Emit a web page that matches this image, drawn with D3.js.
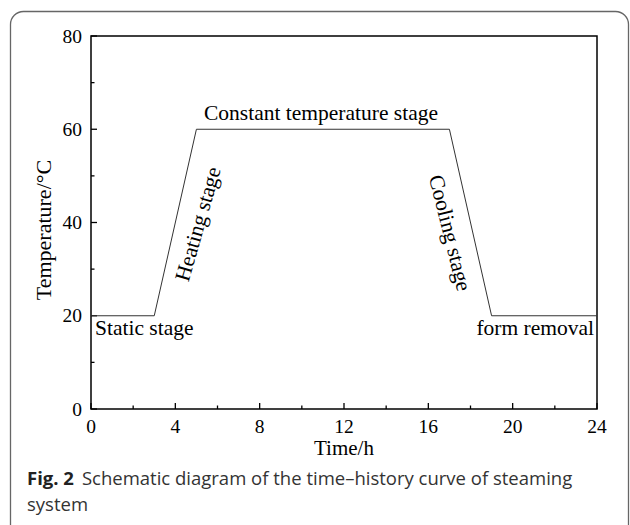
<!DOCTYPE html>
<html><head><meta charset="utf-8">
<script src="https://cdn.jsdelivr.net/npm/d3@7"></script>
<style>body{margin:0;background:#fff}svg{display:block}</style>
</head><body>
<svg id="c" width="630" height="525"></svg>
<script>
const timeH = [0, 3, 5, 17, 19, 24];
const tempC = [20, 20, 60, 60, 20, 20];
const xTicks = [0, 4, 8, 12, 16, 20, 24];
const yTicks = [0, 20, 40, 60, 80];
const xMinor = [2, 6, 10, 14, 18, 22];
const yMinor = [10, 30, 50, 70];
const stageLabels = ["Static stage", "Heating stage", "Constant temperature stage", "Cooling stage", "form removal"];

const svg = d3.select("#c");
const serif = "'Liberation Serif','Times New Roman',serif";
const sans = "'Open Sans','Noto Sans',sans-serif";

svg.append("rect").attr("x", 10.5).attr("y", 11.5).attr("width", 618).attr("height", 530)
  .attr("rx", 13).attr("fill", "none").attr("stroke", "#666").attr("stroke-width", 1.3);

const L = 91, R = 597, T = 36, B = 409;
const x = d3.scaleLinear().domain([0, 24]).range([L, R]);
const y = d3.scaleLinear().domain([0, 80]).range([B, T]);

const g = svg.append("g");
g.append("rect").attr("x", L).attr("y", T).attr("width", R - L).attr("height", B - T)
  .attr("fill", "none").attr("stroke", "#000").attr("stroke-width", 1.5);

const tk = g.append("g").attr("stroke", "#000").attr("stroke-width", 1.3);
xTicks.forEach(v => tk.append("line").attr("x1", x(v)).attr("x2", x(v)).attr("y1", B).attr("y2", B - 6));
xMinor.forEach(v => tk.append("line").attr("x1", x(v)).attr("x2", x(v)).attr("y1", B).attr("y2", B - 3.5));
yTicks.forEach(v => tk.append("line").attr("x1", L).attr("x2", L + 6).attr("y1", y(v)).attr("y2", y(v)));
yMinor.forEach(v => tk.append("line").attr("x1", L).attr("x2", L + 3.5).attr("y1", y(v)).attr("y2", y(v)));

const fsT = 19.5, fsA = 21, fsS = 21.5;
g.selectAll(".xl").data(xTicks).enter().append("text")
  .attr("x", d => x(d)).attr("y", 433).attr("text-anchor", "middle")
  .attr("font-family", serif).attr("font-size", fsT).text(d => d);
g.selectAll(".yl").data(yTicks).enter().append("text")
  .attr("x", 82).attr("y", d => y(d) + 6.5).attr("text-anchor", "end")
  .attr("font-family", serif).attr("font-size", fsT).text(d => d);

g.append("text").attr("x", (L + R) / 2).attr("y", 455).attr("text-anchor", "middle")
  .attr("font-family", serif).attr("font-size", fsA).text("Time/h");
g.append("text").attr("transform", "translate(50.5,230) rotate(-90)").attr("text-anchor", "middle")
  .attr("font-family", serif).attr("font-size", 22).text("Temperature/\u00B0C");

const pts = timeH.map((t, i) => [t, tempC[i]]);
g.append("path").datum(pts)
  .attr("d", d3.line().x(d => x(d[0])).y(d => y(d[1])))
  .attr("fill", "none").attr("stroke", "#333").attr("stroke-width", 1);

const lab = (txt, tx, ty, rot, anchor) => g.append("text")
  .attr("transform", `translate(${tx},${ty}) rotate(${rot})`)
  .attr("text-anchor", anchor).attr("font-family", serif).attr("font-size", fsS).text(txt);
lab(stageLabels[0], 95, 335, 0, "start");
lab(stageLabels[2], 321, 120, 0, "middle");
lab(stageLabels[4], 594, 335, 0, "end");
lab(stageLabels[1], 198, 224, -74, "middle").attr("dominant-baseline", "central");
lab(stageLabels[3], 450, 233, 76, "middle").attr("dominant-baseline", "central");

const capFs = 18.5;
const cap = svg.append("text").attr("x", 27).attr("y", 485).attr("font-family", sans)
  .attr("font-size", capFs).attr("fill", "#333");
cap.append("tspan").attr("font-weight", "bold").attr("fill", "#222").text("Fig. 2");
cap.append("tspan").attr("dx", 8).text("Schematic diagram of the time\u2013history curve of steaming");
svg.append("text").attr("x", 27).attr("y", 511).attr("font-family", sans)
  .attr("font-size", capFs).attr("fill", "#333").text("system");
</script>
</body></html>
